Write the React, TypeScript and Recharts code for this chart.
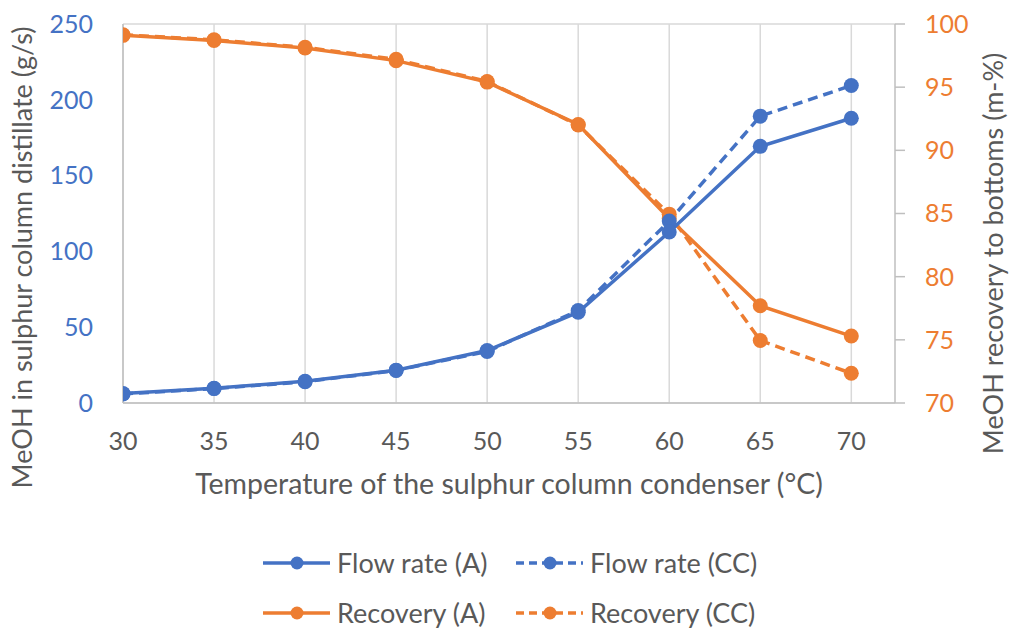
import { LineChart, Line, XAxis, YAxis, CartesianGrid, Legend } from "recharts";

const temperatures = [30, 35, 40, 45, 50, 55, 60, 65, 70];
const flowRateA = [6.3, 9.7, 14.3, 21.6, 34.6, 59.9, 112.8, 169.3, 187.8];
const flowRateCC = [6, 9.5, 14, 21.5, 34, 61, 120, 189.2, 209.4];
const recoveryA = [99.1, 98.7, 98.1, 97.1, 95.4, 92.05, 84.6, 77.7, 75.3];
const recoveryCC = [99.15, 98.75, 98.15, 97.2, 95.45, 92.0, 84.95, 74.95, 72.35];

const leftTicks = [0, 50, 100, 150, 200, 250];
const rightTicks = [70, 75, 80, 85, 90, 95, 100];

const BLUE = "#4472C4";
const ORANGE = "#ED7D31";
const GRAY = "#595959";
const AXIS = "#BFBFBF";
const FONT = "Lato, 'Liberation Sans', sans-serif";

const data = temperatures.map((t, i) => ({
  t,
  flowA: flowRateA[i],
  flowCC: flowRateCC[i],
  recA: recoveryA[i],
  recCC: recoveryCC[i],
}));

const legendItems = [
  { name: "Flow rate (A)", color: BLUE, dashed: false },
  { name: "Flow rate (CC)", color: BLUE, dashed: true },
  { name: "Recovery (A)", color: ORANGE, dashed: false },
  { name: "Recovery (CC)", color: ORANGE, dashed: true },
];

function ChartLegend() {
  return (
    <svg width={1012} height={90} style={{ display: "block" }}>
      {legendItems.map((item, i) => {
        const x = i % 2 === 0 ? 263 : 516;
        const y = i < 2 ? 23 : 73;
        return (
          <g key={item.name}>
            <line
              x1={x}
              x2={x + 67}
              y1={y}
              y2={y}
              stroke={item.color}
              strokeWidth={3.5}
              strokeDasharray={item.dashed ? "8 5" : undefined}
            />
            <circle cx={x + 34} cy={y} r={6.5} fill={item.color} />
            <text
              x={x + 74}
              y={y}
              dy="0.36em"
              fill={GRAY}
              fontSize={27}
              fontFamily={FONT}
            >
              {item.name}
            </text>
          </g>
        );
      })}
    </svg>
  );
}

export default function App() {
  return (
    <div style={{ width: 1012, height: 630, background: "#fff" }}>
      <style>{`body{margin:0}`}</style>
      <LineChart
        width={1012}
        height={630}
        data={data}
        margin={{ top: 24, right: 0, left: 0, bottom: 0 }}
        style={{ fontFamily: FONT }}
      >
        <CartesianGrid stroke="#D9D9D9" strokeWidth={1.5} verticalValues={temperatures} />
        <XAxis
          dataKey="t"
          type="number"
          domain={[30, 72.4]}
          ticks={temperatures}
          allowDataOverflow
          height={137}
          tickLine={false}
          tickSize={0}
          tickMargin={29}
          axisLine={{ stroke: AXIS, strokeWidth: 1.5 }}
          tick={{ fill: GRAY, fontSize: 25, fontFamily: FONT }}
          label={{
            value: "Temperature of the sulphur column condenser (°C)",
            position: "insideTop",
            dy: 66,
            fill: GRAY,
            fontSize: 28.5,
            fontFamily: FONT,
          }}
        />
        <YAxis
          yAxisId="left"
          domain={[0, 250]}
          ticks={leftTicks}
          width={123}
          tickLine={false}
          tickSize={0}
          tickMargin={30}
          axisLine={{ stroke: AXIS, strokeWidth: 1.5 }}
          tick={{ fill: BLUE, fontSize: 25, fontFamily: FONT }}
          label={{
            value: "MeOH in sulphur column distillate (g/s)",
            angle: -90,
            position: "insideLeft",
            dx: 17,
            dy: 44,
            fill: GRAY,
            fontSize: 27,
            fontFamily: FONT,
            style: { textAnchor: "middle" },
          }}
        />
        <YAxis
          yAxisId="right"
          orientation="right"
          domain={[70, 100]}
          ticks={rightTicks}
          width={117}
          tickSize={10}
          tickMargin={20}
          tickLine={{ stroke: AXIS, strokeWidth: 1.5 }}
          axisLine={{ stroke: AXIS, strokeWidth: 1.5 }}
          tick={{ fill: ORANGE, fontSize: 25, fontFamily: FONT }}
          label={{
            value: "MeOH recovery to bottoms (m-%)",
            angle: -90,
            position: "insideRight",
            dx: -14,
            dy: 40,
            fill: GRAY,
            fontSize: 27,
            fontFamily: FONT,
            style: { textAnchor: "middle" },
          }}
        />
        <Legend verticalAlign="bottom" height={90} content={() => <ChartLegend />} />
        <Line
          yAxisId="right"
          dataKey="recCC"
          stroke={ORANGE}
          strokeWidth={3.5}
          strokeDasharray="10 6"
          dot={{ r: 7.5, fill: ORANGE, stroke: ORANGE, strokeWidth: 0 }}
          isAnimationActive={false}
        />
        <Line
          yAxisId="right"
          dataKey="recA"
          stroke={ORANGE}
          strokeWidth={3.5}
          dot={{ r: 7.5, fill: ORANGE, stroke: ORANGE, strokeWidth: 0 }}
          isAnimationActive={false}
        />
        <Line
          yAxisId="left"
          dataKey="flowCC"
          stroke={BLUE}
          strokeWidth={3.5}
          strokeDasharray="10 6"
          dot={{ r: 7.5, fill: BLUE, stroke: BLUE, strokeWidth: 0 }}
          isAnimationActive={false}
        />
        <Line
          yAxisId="left"
          dataKey="flowA"
          stroke={BLUE}
          strokeWidth={3.5}
          dot={{ r: 7.5, fill: BLUE, stroke: BLUE, strokeWidth: 0 }}
          isAnimationActive={false}
        />
      </LineChart>
    </div>
  );
}
